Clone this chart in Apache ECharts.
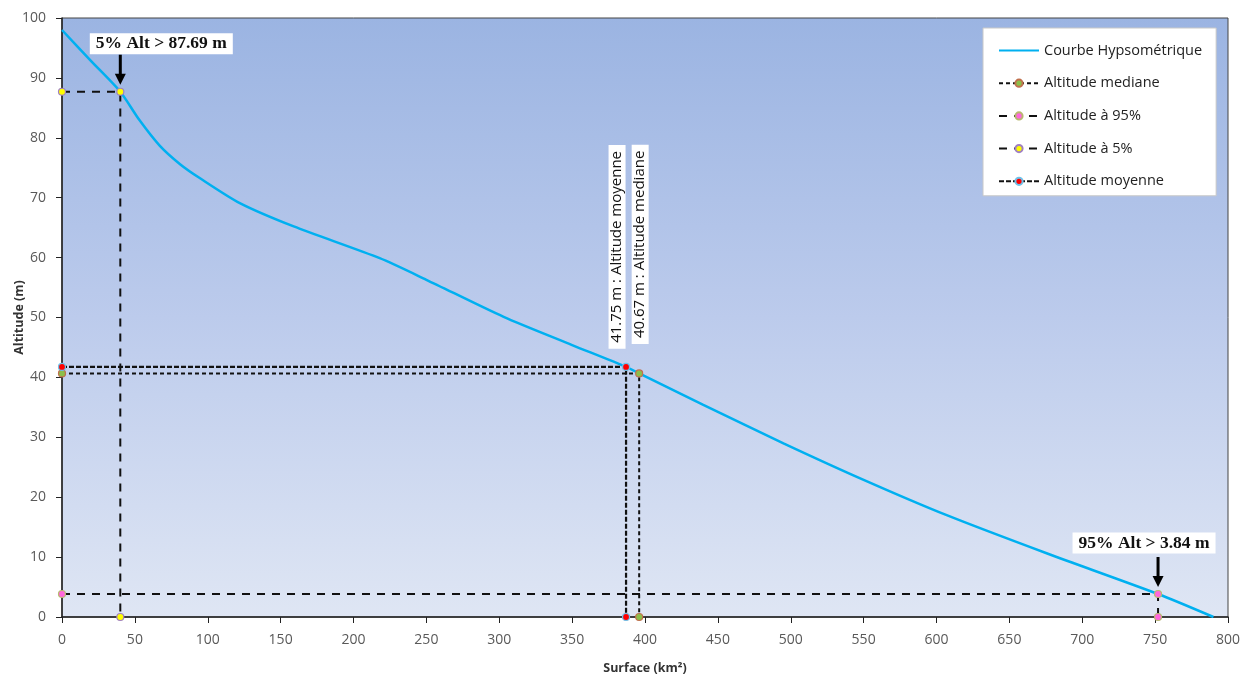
<!DOCTYPE html>
<html>
<head>
<meta charset="utf-8">
<script src="https://cdn.jsdelivr.net/npm/echarts@6/dist/echarts.min.js"></script>
<style>
html,body{margin:0;padding:0;background:#fff;}
#chart{width:1250px;height:680px;}
</style>
</head>
<body>
<div id="chart"></div>
<script>
// ---- Data ----
var curveSurface = [0, 20, 40, 53, 67, 81, 95, 122, 159, 218, 250, 303, 350, 387, 396, 440, 495, 550, 607, 676, 752, 790];
var curveAltitude = [98, 92.8, 87.69, 83, 78.7, 75.6, 73.2, 69.1, 65.2, 59.9, 56.3, 50.1, 45.4, 41.75, 40.67, 35.4, 29, 22.9, 17, 10.6, 3.84, 0];

var medianSurface = 396, medianAlt = 40.67;
var meanSurface = 387, meanAlt = 41.75;
var p5Surface = 40, p5Alt = 87.69;
var p95Surface = 752, p95Alt = 3.84;

var xTicks = [0, 800, 50];
var yTicks = [0, 100, 10];

var seriesNames = ['Courbe Hypsométrique', 'Altitude mediane', 'Altitude à 95%', 'Altitude à 5%', 'Altitude moyenne'];
var labelMedian = '40.67 m : Altitude mediane';
var labelMean = '41.75 m : Altitude moyenne';
var label5 = '5% Alt > 87.69 m';
var label95 = '95% Alt > 3.84 m';

function guide(sx, sy) { return [[0, sy], [sx, sy], [sx, 0]]; }

var chart = echarts.init(document.getElementById('chart'), null, {renderer: 'canvas'});

var guideCommon = {type: 'line', symbol: 'circle', symbolSize: 7, clip: false, z: 3, animation: false};

var option = {
  animation: false,
  grid: {
    left: 62, right: 22, top: 18, bottom: 63,
    containLabel: false,
    outerBoundsMode: 'none',
    show: true,
    borderColor: '#444', borderWidth: 1,
    backgroundColor: {
      type: 'linear', x: 0, y: 0, x2: 0, y2: 1,
      colorStops: [
        {offset: 0, color: '#9bb4e2'},
        {offset: 0.5, color: '#bccbec'},
        {offset: 1, color: '#dfe6f4'}
      ]
    }
  },
  legend: {
    orient: 'vertical',
    left: 983, top: 28,
    backgroundColor: '#ffffff',
    borderColor: '#c8c8c8', borderWidth: 1,
    padding: [15, 14, 7, 15],
    itemGap: 17.7, itemWidth: 40, itemHeight: 9,
    textStyle: {fontFamily: 'Open Sans', fontSize: 14.5, color: '#222'},
    data: [
      {name: seriesNames[0], itemStyle: {opacity: 0}},
      seriesNames[1], seriesNames[2], seriesNames[3], seriesNames[4]
    ]
  },
  xAxis: {
    type: 'value', min: xTicks[0], max: xTicks[1], interval: xTicks[2],
    name: 'Surface (km²)', nameLocation: 'middle', nameGap: 45, nameMoveOverlap: false,
    nameTextStyle: {fontFamily: 'Open Sans', fontWeight: 'bold', fontSize: 12.5, color: '#333'},
    axisLine: {show: true, lineStyle: {color: '#222', width: 1.5}},
    axisTick: {show: true, length: 6, lineStyle: {color: '#222'}},
    axisLabel: {fontFamily: 'Open Sans', fontSize: 14, color: '#595959', margin: 16},
    splitLine: {show: false}
  },
  yAxis: {
    type: 'value', min: yTicks[0], max: yTicks[1], interval: yTicks[2],
    name: 'Altitude (m)', nameLocation: 'middle', nameGap: 36, nameMoveOverlap: false,
    nameTextStyle: {fontFamily: 'Open Sans', fontWeight: 'bold', fontSize: 12.5, color: '#333'},
    axisLine: {show: true, lineStyle: {color: '#222', width: 1.5}},
    axisTick: {show: true, length: 6, lineStyle: {color: '#222'}},
    axisLabel: {fontFamily: 'Open Sans', fontSize: 14, color: '#595959', margin: 16},
    splitLine: {show: false}
  },
  series: [
    {
      name: seriesNames[0], type: 'line', showSymbol: false, symbol: 'none', smooth: 0.25,
      lineStyle: {color: '#00b0f0', width: 2.5}, itemStyle: {color: '#00b0f0'}, z: 2,
      data: curveSurface.map(function (s, i) { return [s, curveAltitude[i]]; })
    },
    Object.assign({}, guideCommon, {
      name: seriesNames[1],
      lineStyle: {color: '#111', width: 2, type: [4, 3]},
      itemStyle: {color: '#8cbf4a', borderColor: '#c0704d', borderWidth: 1.2},
      data: guide(medianSurface, medianAlt)
    }),
    Object.assign({}, guideCommon, {
      name: seriesNames[2],
      lineStyle: {color: '#111', width: 2, type: [8, 7]},
      itemStyle: {color: '#ff66dd', borderColor: '#b8b870', borderWidth: 1.2},
      data: guide(p95Surface, p95Alt)
    }),
    Object.assign({}, guideCommon, {
      name: seriesNames[3],
      lineStyle: {color: '#111', width: 2, type: [8, 7]},
      itemStyle: {color: '#ffff00', borderColor: '#a080c0', borderWidth: 1.2},
      data: guide(p5Surface, p5Alt)
    }),
    Object.assign({}, guideCommon, {
      name: seriesNames[4],
      lineStyle: {color: '#111', width: 2.2, type: [5, 2]},
      itemStyle: {color: '#ff0000', borderColor: '#70c0e8', borderWidth: 1.2},
      data: guide(meanSurface, meanAlt)
    })
  ]
};
chart.setOption(option);

function px(x, y) { return chart.convertToPixel({gridIndex: 0}, [x, y]); }

function arrow(p) {
  var x = p[0], tip = p[1] - 7;
  return [
    {type: 'line', shape: {x1: x, y1: tip - 30, x2: x, y2: tip - 8}, style: {stroke: '#000', lineWidth: 3}, z: 10},
    {type: 'polygon', shape: {points: [[x - 5.5, tip - 11], [x + 5.5, tip - 11], [x, tip]]}, style: {fill: '#000'}, z: 10}
  ];
}

var p5 = px(p5Surface, p5Alt), p95 = px(p95Surface, p95Alt);
var pMean = px(meanSurface, meanAlt), pMed = px(medianSurface, medianAlt);

var boxStyleSerif = {
  font: 'bold 17.5px "Liberation Serif", "DejaVu Serif", serif',
  fill: '#111', backgroundColor: '#fff', padding: [2, 6, 1, 6],
  align: 'center', verticalAlign: 'middle'
};
var boxStyleVert = {
  font: '15px "Open Sans", sans-serif',
  fill: '#111', backgroundColor: '#fff', padding: [1, 6, 1, 6],
  align: 'center', verticalAlign: 'middle'
};

var graphics = [];
graphics.push({type: 'text', x: p5[0] + 41, y: p5[1] - 48, z: 10,
  style: Object.assign({text: label5}, boxStyleSerif)});
graphics.push({type: 'text', x: p95[0] - 14, y: p95[1] - 51, z: 10,
  style: Object.assign({text: label95}, boxStyleSerif)});
graphics = graphics.concat(arrow(p5), arrow(p95));
graphics.push({type: 'text', x: pMean[0] - 9, y: pMean[1] - 120, rotation: Math.PI / 2, z: 10,
  style: Object.assign({text: labelMean}, boxStyleVert)});
graphics.push({type: 'text', x: pMed[0] + 1, y: pMed[1] - 129, rotation: Math.PI / 2, z: 10,
  style: Object.assign({text: labelMedian}, boxStyleVert)});

chart.setOption({graphic: graphics});
</script>
</body>
</html>
